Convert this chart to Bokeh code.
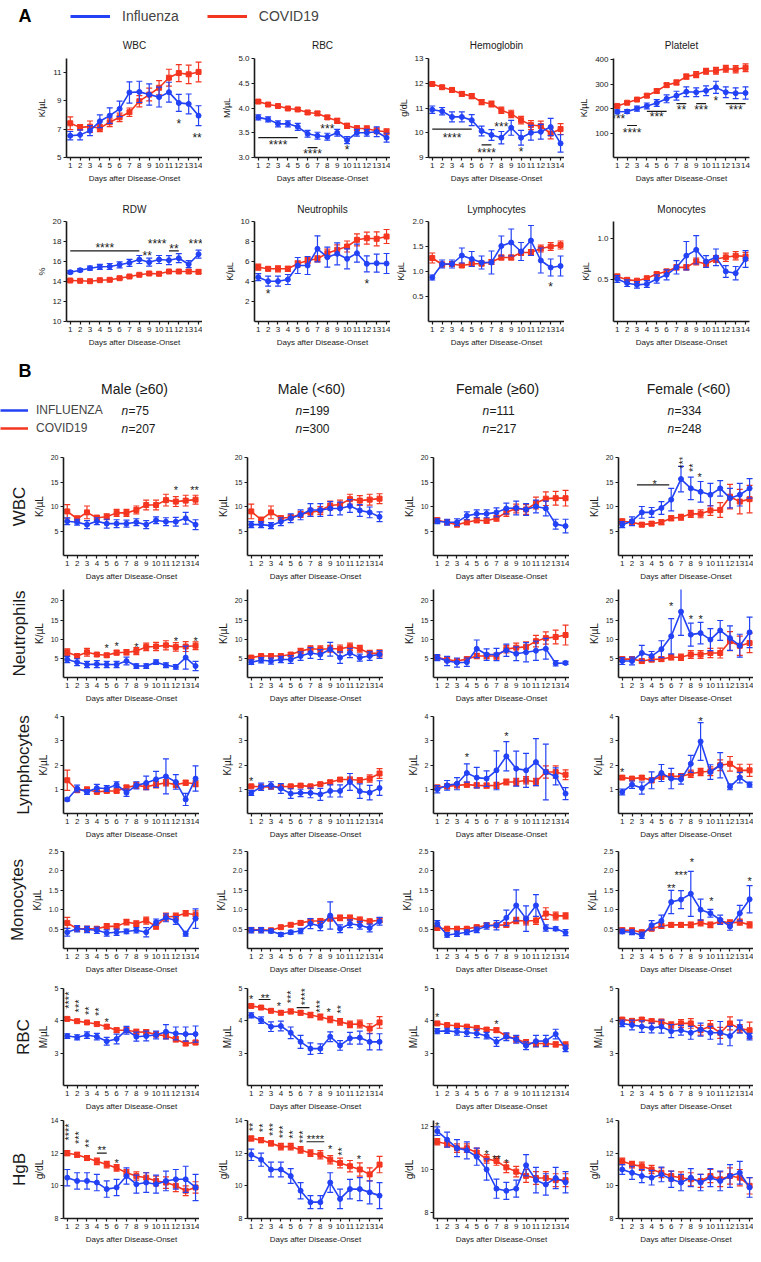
import math
from bokeh.plotting import figure
from bokeh.layouts import column, row
from bokeh.models import Range1d, Label, Legend, LegendItem, Title, PrintfTickFormatter
from bokeh.embed import file_html
from bokeh.resources import INLINE
from bokeh.core.properties import value

FONT = "Liberation Sans"
BLUE = "#2342f5"
RED = "#f4351f"
INK = "#1a1a1a"
PAD = 8  # page margin compensation

DAYS = list(range(1, 15))
X_LABEL = "Days after Disease-Onset"

# ---------------- Section A data ----------------
A_WBC_FLU = [6.54, 6.60, 6.90, 7.56, 7.96, 8.44, 9.60, 9.64, 9.45, 9.27, 9.62, 8.86, 8.79, 7.96]
A_WBC_FLU_SE = [0.3, 0.35, 0.35, 0.45, 0.55, 0.55, 0.75, 0.75, 0.75, 0.7, 0.7, 0.6, 0.7, 0.7]
A_WBC_COV = [7.42, 7.13, 7.18, 7.08, 7.49, 7.84, 8.20, 8.98, 9.45, 9.93, 10.64, 10.97, 10.88, 11.05]
A_WBC_COV_SE = [0.45, 0.2, 0.4, 0.25, 0.3, 0.3, 0.3, 0.4, 0.45, 0.5, 0.6, 0.6, 0.65, 0.7]

A_RBC_FLU = [3.81, 3.77, 3.68, 3.68, 3.62, 3.48, 3.44, 3.42, 3.50, 3.35, 3.50, 3.50, 3.52, 3.40]
A_RBC_FLU_SE = [0.05, 0.05, 0.06, 0.06, 0.07, 0.07, 0.07, 0.07, 0.07, 0.07, 0.07, 0.07, 0.1, 0.09]
A_RBC_COV = [4.13, 4.07, 4.04, 3.99, 3.97, 3.91, 3.89, 3.81, 3.74, 3.64, 3.59, 3.58, 3.54, 3.52]
A_RBC_COV_SE = [0.03, 0.03, 0.03, 0.03, 0.03, 0.04, 0.04, 0.04, 0.05, 0.05, 0.05, 0.06, 0.06, 0.06]

A_HGB_FLU = [10.93, 10.87, 10.64, 10.64, 10.51, 10.07, 9.91, 9.80, 10.20, 9.80, 10.00, 10.04, 10.23, 9.57]
A_HGB_FLU_SE = [0.15, 0.15, 0.2, 0.2, 0.22, 0.2, 0.22, 0.25, 0.3, 0.3, 0.3, 0.3, 0.35, 0.35]
A_HGB_COV = [11.97, 11.84, 11.73, 11.57, 11.48, 11.24, 11.16, 10.91, 10.76, 10.51, 10.31, 10.27, 9.97, 10.15]
A_HGB_COV_SE = [0.06, 0.07, 0.08, 0.09, 0.1, 0.1, 0.12, 0.13, 0.15, 0.15, 0.18, 0.2, 0.22, 0.22]

A_PLT_FLU = [187, 188, 200, 211, 223, 240, 253, 269, 267, 273, 287, 267, 263, 264]
A_PLT_FLU_SE = [8, 8, 10, 12, 14, 16, 18, 20, 18, 20, 25, 22, 22, 25]
A_PLT_COV = [211, 224, 237, 253, 272, 296, 307, 331, 339, 353, 355, 363, 361, 367]
A_PLT_COV_SE = [5, 5, 6, 6, 8, 8, 10, 10, 12, 12, 14, 14, 15, 16]

A_RDW_FLU = [14.93, 15.13, 15.33, 15.47, 15.50, 15.67, 15.87, 16.20, 15.93, 16.20, 16.13, 16.33, 15.73, 16.73]
A_RDW_FLU_SE = [0.15, 0.15, 0.2, 0.25, 0.3, 0.3, 0.35, 0.4, 0.4, 0.4, 0.45, 0.45, 0.35, 0.4]
A_RDW_COV = [14.10, 14.07, 14.03, 14.13, 14.17, 14.33, 14.50, 14.67, 14.80, 14.77, 15.00, 15.00, 15.00, 14.97]
A_RDW_COV_SE = [0.1, 0.1, 0.1, 0.1, 0.1, 0.12, 0.12, 0.12, 0.15, 0.15, 0.15, 0.15, 0.18, 0.18]

A_NEU_FLU = [4.43, 4.03, 4.03, 4.20, 5.60, 5.60, 7.27, 6.43, 6.77, 6.27, 6.83, 5.77, 5.83, 5.80]
A_NEU_FLU_SE = [0.35, 0.5, 0.5, 0.5, 0.8, 0.9, 1.3, 1.0, 1.1, 1.0, 0.9, 0.8, 0.9, 1.0]
A_NEU_COV = [5.43, 5.27, 5.27, 5.27, 5.77, 6.10, 6.27, 6.83, 7.17, 7.50, 8.17, 8.33, 8.27, 8.50]
A_NEU_COV_SE = [0.3, 0.2, 0.3, 0.25, 0.3, 0.3, 0.3, 0.4, 0.5, 0.55, 0.6, 0.6, 0.7, 0.7]

A_LYM_FLU = [0.88, 1.15, 1.15, 1.32, 1.25, 1.18, 1.18, 1.51, 1.58, 1.40, 1.62, 1.22, 1.08, 1.11]
A_LYM_FLU_SE = [0.05, 0.08, 0.08, 0.15, 0.15, 0.13, 0.23, 0.2, 0.27, 0.18, 0.3, 0.25, 0.17, 0.2]
A_LYM_COV = [1.27, 1.14, 1.15, 1.12, 1.15, 1.16, 1.19, 1.28, 1.28, 1.38, 1.38, 1.46, 1.50, 1.53]
A_LYM_COV_SE = [0.1, 0.05, 0.05, 0.04, 0.04, 0.05, 0.05, 0.05, 0.05, 0.06, 0.06, 0.07, 0.08, 0.08]

A_MON_FLU = [0.51, 0.46, 0.44, 0.45, 0.51, 0.56, 0.65, 0.79, 0.86, 0.72, 0.77, 0.60, 0.58, 0.75]
A_MON_FLU_SE = [0.04, 0.04, 0.04, 0.04, 0.05, 0.06, 0.08, 0.17, 0.17, 0.07, 0.1, 0.07, 0.08, 0.1]
A_MON_COV = [0.54, 0.50, 0.49, 0.52, 0.57, 0.60, 0.65, 0.65, 0.72, 0.69, 0.75, 0.77, 0.79, 0.78]
A_MON_COV_SE = [0.03, 0.02, 0.02, 0.02, 0.02, 0.03, 0.03, 0.03, 0.04, 0.04, 0.04, 0.05, 0.05, 0.05]

# significance marks (x, y, text, rotated) and bars (x0, x1, y)
A_WBC_STARS = [(12, 7.5, "*", 0), (13.85, 6.55, "**", 0)]
A_RBC_STARS = [(3, 3.29, "****", 0), (6.5, 3.12, "****", 0), (8, 3.62, "***", 0), (10, 3.2, "*", 0)]
A_RBC_BARS = [(1, 5, 3.4), (6, 7, 3.2)]
A_HGB_STARS = [(3, 9.88, "****", 0), (6.5, 9.25, "****", 0), (8, 10.33, "***", 0), (10, 9.3, "*", 0)]
A_HGB_BARS = [(1, 5, 10.15), (6, 7, 9.51)]
A_PLT_STARS = [(1.1, 167, "***", 0), (2.5, 109, "****", 0), (5, 172, "***", 0), (7.5, 204, "**", 0),
               (9.5, 204, "***", 0), (11, 240, "*", 0), (13, 204, "***", 0)]
A_PLT_BARS = [(2, 3, 131), (4, 6, 189), (7, 8, 220), (9, 10, 220), (12, 14, 220)]
A_RDW_STARS = [(4.5, 17.6, "****", 0), (8.8, 16.75, "**", 0), (9.8, 18.0, "****", 0),
               (11.5, 17.5, "**", 0), (13.7, 18.0, "***", 0)]
A_RDW_BARS = [(1, 8, 17.07), (11, 12, 17.07)]
A_NEU_STARS = [(2, 2.93, "*", 0), (12, 3.93, "*", 0)]
A_LYM_STARS = [(13, 0.73, "*", 0)]

# ---------------- Section B data ----------------
GROUPS = ["MO", "MY", "FO", "FY"]
GROUP_TITLES = ["Male (≥60)", "Male (<60)", "Female (≥60)", "Female (<60)"]
N_FLU = [75, 199, 111, 334]
N_COV = [207, 300, 217, 248]

B_WBC_FLU_MO = [7.0, 6.8, 6.3, 7.0, 6.5, 6.5, 6.5, 6.8, 6.3, 7.2, 6.9, 6.9, 7.6, 6.3]
B_WBC_FLU_MO_SE = [0.7, 0.6, 0.8, 0.7, 0.9, 0.8, 0.7, 0.7, 0.8, 0.7, 0.8, 0.9, 1.2, 1.0]
B_WBC_COV_MO = [9.0, 7.5, 8.8, 7.7, 7.9, 8.7, 8.7, 9.3, 10.3, 10.3, 11.3, 11.0, 11.2, 11.4]
B_WBC_COV_MO_SE = [1.4, 0.6, 1.3, 0.5, 0.6, 0.7, 0.7, 0.8, 1.0, 1.0, 1.2, 1.0, 1.1, 0.9]
B_WBC_FLU_MY = [6.3, 6.3, 6.1, 6.9, 7.6, 8.3, 9.3, 9.3, 9.6, 9.6, 10.1, 9.2, 8.8, 7.9]
B_WBC_FLU_MY_SE = [0.6, 0.6, 0.6, 0.8, 0.9, 1.0, 1.3, 1.3, 1.4, 1.3, 1.3, 1.2, 1.1, 1.0]
B_WBC_COV_MY = [9.0, 7.3, 8.8, 7.6, 7.8, 8.4, 8.8, 9.2, 10.2, 10.4, 11.5, 11.2, 11.4, 11.6]
B_WBC_COV_MY_SE = [1.5, 0.5, 1.3, 0.5, 0.5, 0.6, 0.8, 0.8, 0.9, 0.9, 1.0, 1.0, 1.1, 1.0]
B_WBC_FLU_FO = [7.0, 6.8, 6.8, 8.1, 8.5, 8.5, 8.8, 9.6, 9.7, 9.4, 10.0, 9.6, 6.4, 6.0]
B_WBC_FLU_FO_SE = [0.5, 0.6, 0.7, 0.8, 0.8, 0.8, 0.9, 1.1, 1.4, 1.2, 1.3, 1.5, 1.0, 1.4]
B_WBC_COV_FO = [7.2, 6.8, 6.3, 6.8, 7.2, 7.1, 7.6, 8.8, 9.6, 9.4, 10.7, 11.6, 11.7, 11.7]
B_WBC_COV_FO_SE = [0.5, 0.5, 0.4, 0.5, 0.5, 0.5, 0.6, 0.8, 0.9, 1.0, 1.2, 1.4, 1.4, 1.6]
B_WBC_FLU_FY = [6.3, 7.0, 8.8, 8.8, 9.7, 11.4, 15.6, 13.7, 13.0, 12.4, 13.7, 11.7, 12.4, 13.7]
B_WBC_FLU_FY_SE = [0.6, 0.9, 1.2, 1.0, 1.3, 2.3, 2.6, 2.3, 2.1, 2.3, 1.6, 2.0, 2.3, 2.0]
B_WBC_COV_FY = [7.0, 6.8, 6.3, 6.5, 6.8, 7.6, 7.8, 8.5, 8.5, 9.2, 9.3, 12.0, 11.0, 11.5]
B_WBC_COV_FY_SE = [0.4, 0.4, 0.4, 0.4, 0.5, 0.5, 0.6, 0.7, 0.8, 1.0, 1.5, 2.5, 2.5, 2.8]

B_NEU_FLU_MO = [4.7, 4.0, 3.4, 3.5, 3.4, 3.4, 4.3, 3.0, 3.0, 4.0, 3.2, 2.8, 5.2, 3.0]
B_NEU_FLU_MO_SE = [0.8, 0.9, 0.8, 0.9, 0.8, 0.8, 1.0, 0.6, 0.6, 0.6, 0.6, 0.6, 3.0, 1.2]
B_NEU_COV_MO = [6.6, 5.6, 6.6, 6.0, 5.8, 6.5, 6.6, 6.9, 8.0, 8.1, 8.4, 8.0, 8.1, 8.3]
B_NEU_COV_MO_SE = [0.9, 0.5, 1.0, 0.5, 0.5, 0.6, 0.7, 0.9, 1.0, 1.1, 1.2, 1.1, 1.3, 1.0]
B_NEU_FLU_MY = [4.0, 4.5, 4.3, 4.7, 4.7, 5.6, 6.4, 6.0, 7.4, 5.2, 6.4, 5.2, 5.6, 6.0]
B_NEU_FLU_MY_SE = [0.6, 0.7, 0.8, 0.8, 1.0, 1.1, 1.4, 1.3, 1.8, 1.5, 1.2, 0.9, 1.1, 1.0]
B_NEU_COV_MY = [5.2, 5.6, 5.6, 5.6, 6.0, 6.9, 7.5, 7.4, 7.5, 7.5, 8.0, 7.5, 6.3, 6.3]
B_NEU_COV_MY_SE = [0.4, 0.5, 0.5, 0.5, 0.5, 0.7, 0.8, 0.9, 0.9, 1.0, 1.0, 0.9, 0.8, 0.9]
B_NEU_FLU_FO = [5.2, 4.3, 3.9, 4.0, 7.5, 6.0, 6.0, 7.1, 6.2, 6.6, 7.0, 7.5, 3.7, 3.8]
B_NEU_FLU_FO_SE = [0.8, 1.2, 1.2, 1.1, 2.3, 1.5, 1.6, 1.6, 1.8, 2.5, 2.5, 2.7, 0.7, 0.4]
B_NEU_COV_FO = [5.2, 4.7, 4.3, 4.8, 5.6, 5.6, 5.6, 7.4, 7.8, 8.0, 9.5, 10.3, 10.6, 11.1]
B_NEU_COV_FO_SE = [0.6, 0.6, 0.5, 0.6, 0.7, 0.7, 0.8, 1.0, 1.2, 1.3, 1.5, 1.6, 1.8, 2.6]
B_NEU_FLU_FY = [4.3, 4.3, 6.4, 5.6, 7.4, 10.8, 17.2, 11.2, 11.6, 9.9, 12.3, 10.3, 8.3, 11.8]
B_NEU_FLU_FY_SE = [0.9, 1.0, 2.0, 1.2, 2.2, 4.6, 6.2, 3.0, 2.8, 2.9, 2.6, 3.2, 3.0, 4.0]
B_NEU_COV_FY = [4.8, 4.8, 4.3, 4.7, 4.8, 5.3, 5.3, 6.0, 6.0, 6.4, 6.4, 9.5, 8.3, 9.0]
B_NEU_COV_FY_SE = [0.6, 0.6, 0.5, 0.6, 0.6, 0.7, 0.8, 1.0, 1.0, 1.2, 1.3, 2.5, 2.5, 2.5]

B_LYM_FLU_MO = [0.58, 1.03, 0.89, 1.05, 1.03, 1.19, 0.86, 1.16, 1.26, 1.41, 1.53, 1.30, 0.58, 1.44]
B_LYM_FLU_MO_SE = [0.06, 0.14, 0.1, 0.15, 0.12, 0.12, 0.15, 0.15, 0.28, 0.33, 0.72, 0.3, 0.25, 0.52]
B_LYM_COV_MO = [1.37, 0.96, 0.99, 0.89, 0.93, 0.93, 1.07, 1.16, 1.10, 1.19, 1.27, 1.19, 1.27, 1.23]
B_LYM_COV_MO_SE = [0.42, 0.08, 0.1, 0.06, 0.07, 0.07, 0.1, 0.12, 0.12, 0.13, 0.13, 0.12, 0.1, 0.12]
B_LYM_FLU_MY = [0.85, 1.10, 1.16, 1.03, 0.82, 0.85, 0.85, 0.79, 0.93, 0.93, 1.30, 0.92, 0.86, 1.05]
B_LYM_FLU_MY_SE = [0.1, 0.15, 0.15, 0.2, 0.2, 0.15, 0.2, 0.25, 0.25, 0.25, 0.35, 0.3, 0.3, 0.3]
B_LYM_COV_MY = [1.12, 1.10, 1.10, 1.10, 1.12, 1.15, 1.12, 1.21, 1.29, 1.40, 1.40, 1.37, 1.44, 1.65]
B_LYM_COV_MY_SE = [0.05, 0.05, 0.06, 0.06, 0.06, 0.06, 0.06, 0.06, 0.08, 0.08, 0.1, 0.1, 0.15, 0.2]
B_LYM_FLU_FO = [1.00, 1.16, 1.23, 1.67, 1.48, 1.44, 1.78, 2.36, 1.85, 1.78, 2.12, 1.71, 1.53, 0.82]
B_LYM_FLU_FO_SE = [0.15, 0.2, 0.25, 0.38, 0.42, 0.32, 0.8, 0.6, 0.72, 0.7, 0.97, 1.15, 0.35, 0.25]
B_LYM_COV_FO = [1.07, 1.12, 1.16, 1.19, 1.16, 1.15, 1.16, 1.30, 1.30, 1.37, 1.30, 1.71, 1.71, 1.60]
B_LYM_COV_FO_SE = [0.1, 0.1, 0.1, 0.1, 0.1, 0.1, 0.12, 0.12, 0.15, 0.15, 0.15, 0.25, 0.25, 0.2]
B_LYM_FLU_FY = [0.89, 1.19, 1.05, 1.37, 1.67, 1.44, 1.41, 2.05, 2.97, 1.71, 1.99, 1.10, 1.48, 1.19]
B_LYM_FLU_FY_SE = [0.12, 0.15, 0.25, 0.35, 0.35, 0.42, 0.2, 0.35, 0.78, 0.3, 0.52, 0.12, 0.22, 0.1]
B_LYM_COV_FY = [1.48, 1.44, 1.48, 1.37, 1.53, 1.53, 1.53, 1.64, 1.71, 1.74, 1.99, 2.05, 1.78, 1.78]
B_LYM_COV_FY_SE = [0.07, 0.07, 0.08, 0.1, 0.12, 0.12, 0.12, 0.15, 0.15, 0.18, 0.22, 0.3, 0.25, 0.25]

B_MON_FLU_MO = [0.42, 0.51, 0.49, 0.47, 0.40, 0.42, 0.44, 0.47, 0.42, 0.68, 0.79, 0.72, 0.38, 0.77]
B_MON_FLU_MO_SE = [0.1, 0.08, 0.08, 0.08, 0.08, 0.08, 0.06, 0.07, 0.12, 0.08, 0.1, 0.1, 0.06, 0.25]
B_MON_COV_MO = [0.66, 0.51, 0.51, 0.51, 0.57, 0.57, 0.68, 0.64, 0.72, 0.57, 0.81, 0.83, 0.91, 0.87]
B_MON_COV_MO_SE = [0.14, 0.06, 0.06, 0.05, 0.07, 0.07, 0.07, 0.07, 0.09, 0.07, 0.1, 0.08, 0.07, 0.1]
B_MON_FLU_MY = [0.47, 0.47, 0.45, 0.36, 0.42, 0.45, 0.64, 0.58, 0.85, 0.51, 0.64, 0.60, 0.53, 0.70]
B_MON_FLU_MY_SE = [0.07, 0.07, 0.05, 0.05, 0.05, 0.07, 0.13, 0.12, 0.35, 0.1, 0.1, 0.1, 0.1, 0.1]
B_MON_COV_MY = [0.48, 0.48, 0.47, 0.55, 0.61, 0.66, 0.71, 0.71, 0.77, 0.79, 0.79, 0.74, 0.70, 0.73]
B_MON_COV_MY_SE = [0.04, 0.04, 0.04, 0.04, 0.04, 0.05, 0.05, 0.06, 0.06, 0.07, 0.07, 0.07, 0.06, 0.06]
B_MON_FLU_FO = [0.64, 0.35, 0.38, 0.42, 0.48, 0.58, 0.60, 0.79, 1.11, 0.77, 1.11, 0.53, 0.51, 0.41]
B_MON_FLU_FO_SE = [0.08, 0.06, 0.07, 0.06, 0.07, 0.08, 0.12, 0.2, 0.4, 0.33, 0.28, 0.08, 0.05, 0.08]
B_MON_COV_FO = [0.53, 0.51, 0.51, 0.51, 0.55, 0.60, 0.60, 0.61, 0.72, 0.71, 0.72, 0.90, 0.84, 0.84]
B_MON_COV_FO_SE = [0.06, 0.04, 0.04, 0.04, 0.05, 0.05, 0.05, 0.06, 0.08, 0.1, 0.1, 0.15, 0.1, 0.08]
B_MON_FLU_FY = [0.44, 0.42, 0.34, 0.60, 0.71, 1.20, 1.26, 1.41, 1.00, 0.91, 0.74, 0.57, 0.91, 1.27]
B_MON_FLU_FY_SE = [0.06, 0.06, 0.08, 0.12, 0.15, 0.3, 0.23, 0.58, 0.27, 0.1, 0.12, 0.1, 0.2, 0.35]
B_MON_COV_FY = [0.47, 0.47, 0.42, 0.51, 0.58, 0.61, 0.61, 0.61, 0.66, 0.61, 0.70, 0.66, 0.68, 0.61]
B_MON_COV_FY_SE = [0.06, 0.05, 0.05, 0.05, 0.06, 0.06, 0.06, 0.07, 0.08, 0.07, 0.06, 0.08, 0.08, 0.08]

B_RBC_FLU_MO = [3.53, 3.49, 3.56, 3.51, 3.37, 3.44, 3.71, 3.51, 3.53, 3.56, 3.66, 3.61, 3.59, 3.59]
B_RBC_FLU_MO_SE = [0.07, 0.08, 0.1, 0.1, 0.12, 0.15, 0.12, 0.14, 0.15, 0.12, 0.22, 0.2, 0.22, 0.25]
B_RBC_COV_MO = [4.06, 3.99, 3.95, 3.90, 3.82, 3.71, 3.71, 3.66, 3.65, 3.58, 3.53, 3.43, 3.30, 3.33]
B_RBC_COV_MO_SE = [0.05, 0.05, 0.05, 0.06, 0.06, 0.07, 0.07, 0.08, 0.08, 0.08, 0.09, 0.08, 0.07, 0.07]
B_RBC_FLU_MY = [4.17, 4.02, 3.82, 3.84, 3.63, 3.35, 3.14, 3.14, 3.51, 3.24, 3.46, 3.48, 3.35, 3.35]
B_RBC_FLU_MY_SE = [0.08, 0.1, 0.15, 0.15, 0.18, 0.2, 0.18, 0.15, 0.15, 0.15, 0.18, 0.2, 0.25, 0.25]
B_RBC_COV_MY = [4.46, 4.41, 4.31, 4.25, 4.29, 4.25, 4.18, 4.12, 4.04, 3.97, 3.89, 3.90, 3.76, 3.95]
B_RBC_COV_MY_SE = [0.05, 0.05, 0.05, 0.06, 0.07, 0.07, 0.08, 0.09, 0.1, 0.1, 0.1, 0.12, 0.15, 0.18]
B_RBC_FLU_FO = [3.68, 3.69, 3.66, 3.64, 3.61, 3.54, 3.35, 3.51, 3.43, 3.23, 3.37, 3.38, 3.59, 3.15]
B_RBC_FLU_FO_SE = [0.08, 0.08, 0.1, 0.12, 0.13, 0.1, 0.14, 0.12, 0.12, 0.12, 0.18, 0.17, 0.15, 0.1]
B_RBC_COV_FO = [3.92, 3.87, 3.85, 3.82, 3.78, 3.73, 3.71, 3.53, 3.44, 3.32, 3.30, 3.30, 3.27, 3.25]
B_RBC_COV_FO_SE = [0.04, 0.05, 0.05, 0.05, 0.06, 0.06, 0.07, 0.08, 0.1, 0.1, 0.1, 0.1, 0.08, 0.1]
B_RBC_FLU_FY = [3.92, 3.87, 3.82, 3.78, 3.82, 3.68, 3.71, 3.63, 3.73, 3.63, 3.63, 3.53, 3.82, 3.51]
B_RBC_FLU_FY_SE = [0.1, 0.15, 0.18, 0.15, 0.2, 0.2, 0.15, 0.2, 0.2, 0.2, 0.35, 0.3, 0.2, 0.1]
B_RBC_COV_FY = [4.04, 4.00, 4.04, 3.99, 3.97, 3.87, 3.92, 3.92, 3.71, 3.84, 3.63, 3.92, 3.76, 3.71]
B_RBC_COV_FY_SE = [0.05, 0.06, 0.06, 0.07, 0.08, 0.1, 0.12, 0.15, 0.15, 0.17, 0.17, 0.2, 0.12, 0.25]

B_HGB_FLU_MO = [10.5, 10.3, 10.3, 10.2, 9.8, 9.9, 10.6, 10.1, 10.2, 10.1, 10.3, 10.4, 10.4, 9.9]
B_HGB_FLU_MO_SE = [0.5, 0.5, 0.5, 0.5, 0.5, 0.5, 0.5, 0.55, 0.6, 0.55, 0.6, 0.6, 0.8, 0.8]
B_HGB_COV_MO = [12.0, 11.9, 11.7, 11.5, 11.3, 11.1, 10.8, 10.6, 10.5, 10.3, 10.2, 10.0, 9.7, 9.9]
B_HGB_COV_MO_SE = [0.15, 0.15, 0.15, 0.2, 0.2, 0.2, 0.2, 0.25, 0.3, 0.3, 0.35, 0.35, 0.3, 0.35]
B_HGB_FLU_MY = [11.9, 11.6, 11.0, 11.0, 10.6, 9.7, 9.0, 9.0, 10.2, 9.2, 9.8, 9.8, 9.6, 9.4]
B_HGB_FLU_MY_SE = [0.35, 0.4, 0.45, 0.45, 0.45, 0.5, 0.4, 0.4, 0.6, 0.6, 0.6, 0.7, 0.7, 0.8]
B_HGB_COV_MY = [12.9, 12.8, 12.6, 12.4, 12.4, 12.2, 12.0, 11.9, 11.6, 11.4, 11.2, 11.0, 10.7, 11.3]
B_HGB_COV_MY_SE = [0.15, 0.15, 0.15, 0.2, 0.2, 0.2, 0.2, 0.25, 0.25, 0.3, 0.35, 0.4, 0.4, 0.5]
B_HGB_FLU_FO = [11.8, 11.4, 11.0, 10.9, 10.6, 10.0, 9.1, 9.0, 9.1, 10.2, 9.5, 9.3, 9.6, 9.4]
B_HGB_FLU_FO_SE = [0.2, 0.35, 0.4, 0.4, 0.4, 0.5, 0.45, 0.4, 0.4, 0.5, 0.6, 0.5, 0.5, 0.5]
B_HGB_COV_FO = [11.3, 11.2, 11.0, 11.0, 10.8, 10.5, 10.4, 10.1, 9.9, 9.7, 9.6, 9.6, 9.5, 9.5]
B_HGB_COV_FO_SE = [0.15, 0.15, 0.2, 0.2, 0.2, 0.2, 0.2, 0.25, 0.25, 0.3, 0.3, 0.3, 0.3, 0.3]
B_HGB_FLU_FY = [11.0, 10.8, 10.6, 10.5, 10.7, 10.4, 10.2, 10.5, 10.2, 10.5, 10.3, 10.6, 10.8, 9.9]
B_HGB_FLU_FY_SE = [0.3, 0.4, 0.4, 0.45, 0.45, 0.5, 0.5, 0.55, 0.5, 0.55, 0.6, 0.7, 0.7, 0.6]
B_HGB_COV_FY = [11.5, 11.3, 11.2, 11.0, 10.8, 10.6, 10.5, 10.4, 10.3, 10.6, 10.4, 10.6, 10.5, 10.0]
B_HGB_COV_FY_SE = [0.2, 0.2, 0.25, 0.25, 0.3, 0.3, 0.35, 0.4, 0.4, 0.4, 0.45, 0.5, 0.5, 0.5]

B_WBC_STARS_MO = [(12, 13.8, "*", 0), (13.9, 13.8, "**", 0)]
B_WBC_STARS_FY = [(4.3, 15.1, "*", 0), (7, 19.0, "***", 1), (8, 17.9, "**", 1), (8.9, 16.4, "*", 0)]
B_WBC_BARS_FY = [(2.5, 5.8, 14.4)]
B_NEU_STARS_MO = [(5, 8.2, "*", 0), (6, 8.8, "*", 0), (8, 8.6, "*", 0), (12, 10.1, "*", 0), (14, 10.1, "*", 0)]
B_NEU_STARS_FY = [(6, 19.1, "*", 0), (8, 15.9, "*", 0), (9, 15.9, "*", 0)]
B_LYM_STARS_MY = [(1, 1.44, "*", 0)]
B_LYM_STARS_FO = [(4, 2.4, "*", 0), (8, 3.29, "*", 0)]
B_LYM_STARS_FY = [(1, 1.78, "*", 0), (9, 3.9, "*", 0)]
B_MON_STARS_FY = [(6, 1.62, "**", 0), (7, 1.94, "***", 0), (8.1, 2.27, "*", 0), (10.1, 1.28, "*", 0), (14, 1.8, "*", 0)]
B_RBC_STARS_MO = [(1, 4.64, "****", 1), (2, 4.46, "***", 1), (3, 4.31, "**", 1), (4, 4.28, "**", 1), (5, 4.02, "*", 0)]
B_RBC_STARS_MY = [(1, 4.74, "*", 0), (2.4, 4.76, "**", 0), (3.8, 4.51, "*", 0), (4.8, 4.74, "***", 1),
                  (6.2, 4.75, "****", 1), (7.8, 4.45, "***", 1), (8.85, 4.33, "*", 0), (9.9, 4.36, "**", 1)]
B_RBC_BARS_MY = [(1.75, 2.95, 4.66), (5.6, 6.9, 4.41)]
B_RBC_STARS_FO = [(1, 4.17, "*", 0), (7, 3.97, "*", 0)]
B_HGB_STARS_MO = [(1, 13.3, "****", 1), (2, 12.95, "***", 1), (3, 12.6, "**", 1), (4.5, 12.3, "**", 0), (6, 11.55, "*", 0)]
B_HGB_BARS_MO = [(4, 5, 12.0)]
B_HGB_STARS_MY = [(1, 13.6, "**", 1), (2, 13.55, "**", 1), (3, 13.45, "***", 1), (4, 13.3, "***", 1),
                  (5, 13.15, "**", 1), (6, 13.0, "***", 1), (7.5, 13.0, "****", 0), (9, 12.35, "*", 0),
                  (10, 12.1, "**", 1), (11.9, 11.75, "*", 0)]
B_HGB_BARS_MY = [(6.6, 8.4, 12.7)]
B_HGB_STARS_FO = [(1, 12.15, "*", 0), (6, 10.8, "*", 0), (7, 10.6, "**", 0), (8, 10.4, "*", 0)]

G = globals()


def style_axis(ax, fs, lfs):
    ax.axis_line_width = 1.6
    ax.axis_line_color = INK
    ax.major_tick_line_color = INK
    ax.major_tick_line_width = 1.2
    ax.major_tick_in = 0
    ax.major_tick_out = 3
    ax.minor_tick_line_color = None
    ax.major_label_text_font = FONT
    ax.major_label_text_font_size = f"{fs}px"
    ax.major_label_text_color = INK
    ax.major_label_standoff = 2
    ax.axis_label_text_font = FONT
    ax.axis_label_text_font_style = "normal"
    ax.axis_label_text_font_size = f"{lfs}px"
    ax.axis_label_text_color = INK
    ax.axis_label_standoff = 3


def draw_series(p, vals, se, color, marker):
    lo = [v - e for v, e in zip(vals, se)]
    hi = [v + e for v, e in zip(vals, se)]
    p.segment(x0=DAYS, y0=lo, x1=DAYS, y1=hi, line_color=color, line_width=1.2)
    p.scatter(x=DAYS, y=hi, marker="dash", size=6, line_color=color, line_width=1.2)
    p.scatter(x=DAYS, y=lo, marker="dash", size=6, line_color=color, line_width=1.2)
    p.line(x=DAYS, y=vals, line_color=color, line_width=1.6)
    p.scatter(x=DAYS, y=vals, marker=marker, size=5, fill_color=color, line_color=color)


def panel(w, h, bl, br, bt, bb, yr, yticks, ylabel, flu, flu_se, cov, cov_se,
          stars=(), bars=(), title=None, title_standoff=8, rowlabel=None, fmt=None, star_fs=11, ylfs=9, yfs=8):
    kw = dict(width=w, height=h, x_range=Range1d(0.62, 14.4), y_range=Range1d(*yr),
              min_border_left=bl, min_border_right=br, min_border_top=bt, min_border_bottom=bb,
              output_backend="svg", toolbar_location=None)
    if title:
        kw["title"] = title
    p = figure(**kw)
    p.outline_line_color = None
    p.xgrid.grid_line_color = None
    p.ygrid.grid_line_color = None
    if title:
        p.title.align = "center"
        p.title.text_font = FONT
        p.title.text_font_size = "10px"
        p.title.text_font_style = "normal"
        p.title.text_color = INK
        p.title.standoff = title_standoff
    style_axis(p.xaxis[0], 8, 8)
    style_axis(p.yaxis[0], yfs, ylfs)
    p.xaxis.ticker = DAYS
    p.xaxis.axis_label = X_LABEL
    p.yaxis.ticker = yticks
    p.yaxis.axis_label = ylabel
    if fmt:
        p.yaxis.formatter = PrintfTickFormatter(format=fmt)
    if rowlabel:
        p.add_layout(Title(text=rowlabel, align="center", text_font=FONT, text_font_size="17px",
                           text_font_style="normal", text_color=INK, standoff=4), "left")
    draw_series(p, cov, cov_se, RED, "square")
    draw_series(p, flu, flu_se, BLUE, "circle")
    if bars:
        p.segment(x0=[b[0] for b in bars], y0=[b[2] for b in bars],
                  x1=[b[1] for b in bars], y1=[b[2] for b in bars],
                  line_color=INK, line_width=1.2)
    if stars:
        p.text(x=[s[0] for s in stars], y=[s[1] for s in stars], text=[s[2] for s in stars],
               angle=[math.pi / 2 if s[3] else 0 for s in stars],
               x_offset=[2 if s[3] else 0 for s in stars],
               y_offset=[0 if s[3] else 2 for s in stars],
               text_align="center", text_baseline="middle", text_font=value(FONT),
               text_font_size=f"{star_fs}px", text_color=INK)
    return p


def blank(w, h, yr):
    p = figure(width=w, height=h, x_range=Range1d(0, w), y_range=Range1d(*yr), min_border=0,
               x_axis_location=None, y_axis_location=None, toolbar_location=None,
               output_backend="svg")
    p.outline_line_color = None
    p.xgrid.grid_line_color = None
    p.ygrid.grid_line_color = None
    return p


NAN = [float("nan")]

# ---------------- header A ----------------
HA_H = 22 + PAD
hA = blank(745 + PAD, HA_H, (HA_H, 0))
hA.add_layout(Label(x=PAD + 10, y=PAD + 7, text="A", text_font=FONT, text_font_size="18px",
                    text_font_style="bold", text_baseline="middle", text_color="black"))
ra1 = hA.line(x=NAN, y=NAN, line_color=BLUE, line_width=3)
ra2 = hA.line(x=NAN, y=NAN, line_color=RED, line_width=3)
legA = Legend(items=[LegendItem(label="Influenza", renderers=[ra1]), LegendItem(label="COVID19", renderers=[ra2])],
              orientation="horizontal", location=(PAD + 62, 6), glyph_width=40, glyph_height=16, label_height=16,
              label_standoff=12, spacing=28, padding=0, margin=0, border_line_color=None,
              background_fill_alpha=0, label_text_font=FONT, label_text_font_size="14px")
hA.add_layout(legA)

A_COLS = [(194 + PAD, 58 + PAD, 0), (188, 52, 0), (174, 38, 0), (189, 49, 4)]
A_ROW1 = [("WBC", "WBC", "K/µL", (5, 12), [5, 7, 9, 11], None),
          ("RBC", "RBC", "M/µL", (3, 5), [3.0, 3.5, 4.0, 4.5, 5.0], "%.1f"),
          ("HGB", "Hemoglobin", "g/dL", (9, 13), [9, 10, 11, 12, 13], None),
          ("PLT", "Platelet", "K/µL", (0, 405), [100, 200, 300, 400], None)]
A_ROW2 = [("RDW", "RDW", "%", (10, 20), [10, 12, 14, 16, 18, 20], None),
          ("NEU", "Neutrophils", "K/µL", (0, 10), [2, 4, 6, 8, 10], None),
          ("LYM", "Lymphocytes", "K/µL", (0, 2.0), [0.5, 1.0, 1.5, 2.0], "%.1f"),
          ("MON", "Monocytes", "K/µL", (0, 1.2), [0.5, 1.0], "%.1f")]


def a_row(specs, h, bt, bb, tso):
    figs = []
    for (w, bl, br), (key, ttl, yl, yr, yt, fmt) in zip(A_COLS, specs):
        figs.append(panel(w, h, bl, br, bt, bb, yr, yt, yl,
                          G[f"A_{key}_FLU"], G[f"A_{key}_FLU_SE"], G[f"A_{key}_COV"], G[f"A_{key}_COV_SE"],
                          stars=G.get(f"A_{key}_STARS", []), bars=G.get(f"A_{key}_BARS", []),
                          title=ttl, title_standoff=tso, fmt=fmt, star_fs=12, ylfs=9, yfs=8))
    return row(*figs, spacing=0)


rowA1 = a_row(A_ROW1, 160, 28, 33, 15)
rowA2 = a_row(A_ROW2, 160, 31, 29, 13)

# ---------------- header B ----------------
hB = blank(745 + PAD, 95, (95, 0))
hB.add_layout(Label(x=PAD + 10, y=20, text="B", text_font=FONT, text_font_size="18px", text_font_style="bold",
                    text_baseline="middle", text_color="black"))
TITLE_X = [126, 303, 489, 680]
N_X = [113, 287, 474, 659]
for tx, nx, gt, nf, nc in zip(TITLE_X, N_X, GROUP_TITLES, N_FLU, N_COV):
    hB.add_layout(Label(x=PAD + tx, y=38, text=gt, text_font=FONT, text_font_size="14px", text_align="center",
                        text_baseline="middle", text_color=INK))
    for yy, nn in ((60, nf), (78, nc)):
        hB.add_layout(Label(x=PAD + nx, y=yy, text="n", text_font=FONT, text_font_size="12px",
                            text_font_style="italic", text_baseline="middle", text_color=INK))
        hB.add_layout(Label(x=PAD + nx + 7, y=yy, text=f"={nn}", text_font=FONT, text_font_size="12px",
                            text_baseline="middle", text_color=INK))
rb1 = hB.line(x=NAN, y=NAN, line_color=BLUE, line_width=2.5)
rb2 = hB.line(x=NAN, y=NAN, line_color=RED, line_width=2.5)
legB = Legend(items=[LegendItem(label="INFLUENZA", renderers=[rb1]), LegendItem(label="COVID19", renderers=[rb2])],
              orientation="vertical", location=(0, 8), glyph_width=28, glyph_height=18, label_height=18,
              label_standoff=8, spacing=0, padding=0, margin=0, border_line_color=None,
              background_fill_alpha=0, label_text_font=FONT, label_text_font_size="12px")
hB.add_layout(legB)

B_COLS = [(191 + PAD, 55 + PAD, 0), (184, 48, 0), (186, 50, 0), (184, 49, 0)]
B_ROWS = [("WBC", "WBC", "K/µL", [(0, 20)] * 4, [[5, 10, 15, 20]] * 4, None, 142, 12),
          ("NEU", "Neutrophils", "K/µL", [(0, 23)] * 4, [[5, 10, 15, 20]] * 4, None, 122, 2),
          ("LYM", "Lymphocytes", "K/µL", [(0, 4)] * 4, [[1, 2, 3, 4]] * 4, None, 136, 7),
          ("MON", "Monocytes", "K/µL", [(0, 2.5)] * 4, [[0.5, 1.0, 1.5, 2.0, 2.5]] * 4, "%.1f", 135, 6),
          ("RBC", "RBC", "M/µL", [(2, 5)] * 4, [[3, 4, 5]] * 4, None, 137, 8),
          ("HGB", "HgB", "g/dL", [(8, 14), (8, 14), (7.7, 12.3), (8, 14)],
           [[8, 10, 12, 14], [8, 10, 12, 14], [8, 10, 12], [8, 10, 12, 14]], None, 133, 3)]

b_rows = []
for key, rlabel, yl, yrs, yts, fmt, h, bt in B_ROWS:
    figs = []
    for ci, ((w, bl, br), g) in enumerate(zip(B_COLS, GROUPS)):
        figs.append(panel(w, h, bl, br, bt, 32, yrs[ci], yts[ci], yl,
                          G[f"B_{key}_FLU_{g}"], G[f"B_{key}_FLU_{g}_SE"],
                          G[f"B_{key}_COV_{g}"], G[f"B_{key}_COV_{g}_SE"],
                          stars=G.get(f"B_{key}_STARS_{g}", []), bars=G.get(f"B_{key}_BARS_{g}", []),
                          rowlabel=rlabel if ci == 0 else None, fmt=fmt, star_fs=11, ylfs=10, yfs=7))
    b_rows.append(row(*figs, spacing=0))

layout = column(hA, rowA1, rowA2, hB, *b_rows, spacing=0)

with open("out.html", "w") as f:
    f.write(file_html(layout, INLINE))
